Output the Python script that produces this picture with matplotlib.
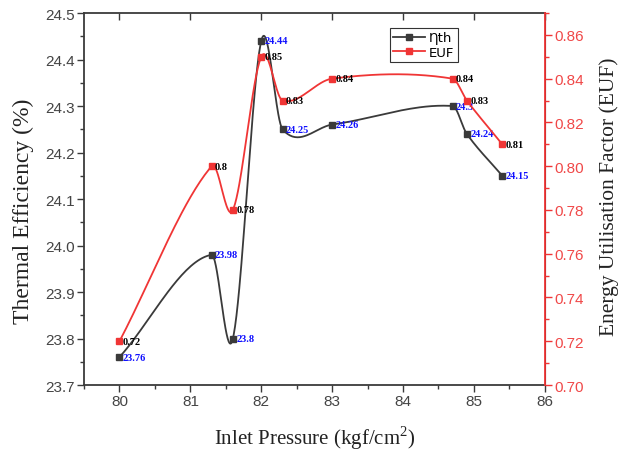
import numpy as np
import matplotlib
matplotlib.use("Agg")
import matplotlib.pyplot as plt
from matplotlib.ticker import MultipleLocator, FormatStrFormatter
from matplotlib.lines import Line2D

plt.rcParams["mathtext.fontset"] = "custom"
plt.rcParams["mathtext.rm"] = "Liberation Serif"

# ---- data ----
pressure = [80.0, 81.3, 81.6, 82.0, 82.3, 83.0, 84.7, 84.9, 85.4]
eta_th = [23.76, 23.98, 23.80, 24.44, 24.25, 24.26, 24.30, 24.24, 24.15]
euf = [0.72, 0.80, 0.78, 0.85, 0.83, 0.84, 0.84, 0.83, 0.81]
eta_labels = ["23.76", "23.98", "23.8", "24.44", "24.25", "24.26", "24.3", "24.24", "24.15"]
euf_labels = ["0.72", "0.8", "0.78", "0.85", "0.83", "0.84", "0.84", "0.83", "0.81"]
x_ticks = [80, 81, 82, 83, 84, 85, 86]


def smooth_curve(xs, ys, n=40):
    """Cardinal (Catmull-Rom style) Hermite curve through the points, for drawing only."""
    xs = np.asarray(xs, float)
    ys = np.asarray(ys, float)
    m = np.empty_like(ys)
    m[0] = (ys[1] - ys[0]) / (xs[1] - xs[0])
    m[-1] = (ys[-1] - ys[-2]) / (xs[-1] - xs[-2])
    m[1:-1] = (ys[2:] - ys[:-2]) / (xs[2:] - xs[:-2])
    px, py = [], []
    for i in range(len(xs) - 1):
        h = xs[i + 1] - xs[i]
        t = np.linspace(0, 1, n, endpoint=(i == len(xs) - 2))
        h00 = 2 * t**3 - 3 * t**2 + 1
        h10 = t**3 - 2 * t**2 + t
        h01 = -2 * t**3 + 3 * t**2
        h11 = t**3 - t**2
        px.append(xs[i] + t * h)
        py.append(h00 * ys[i] + h10 * h * m[i] + h01 * ys[i + 1] + h11 * h * m[i + 1])
    return np.concatenate(px), np.concatenate(py)


black = "#3a3a3a"
red = "#f03535"
red_txt = "#f04848"
blue = "#1010ff"
tick_gray = "#444444"

fig = plt.figure(figsize=(6.32, 4.52), dpi=100)
ax = fig.add_axes([0.133, 0.146, 0.729, 0.823])
ax2 = ax.twinx()

# black series
sx, sy = smooth_curve(pressure, eta_th)
ax.plot(sx, sy, color=black, lw=1.3, zorder=3)
ax.plot(pressure, eta_th, ls="none", marker="s", ms=5, color=black, zorder=4)
for xv, yv, lab in zip(pressure, eta_th, eta_labels):
    ax.annotate(lab, (xv, yv), xytext=(2.5, 0), textcoords="offset points",
                ha="left", va="center", color=blue, fontsize=7.5,
                fontweight="bold", family="Liberation Serif", zorder=6)

# red series
rx, ry = smooth_curve(pressure, euf)
ax2.plot(rx, ry, color=red, lw=1.3, zorder=3)
ax2.plot(pressure, euf, ls="none", marker="s", ms=5, color=red, zorder=4)
for xv, yv, lab in zip(pressure, euf, euf_labels):
    ax2.annotate(lab, (xv, yv), xytext=(2.5, 0), textcoords="offset points",
                 ha="left", va="center", color="black", fontsize=7.5,
                 fontweight="bold", family="Liberation Serif", zorder=6)

# axes limits/ticks
ax.set_xlim(79.5, 86)
ax.set_ylim(23.7, 24.5)
ax2.set_ylim(0.70, 0.87)
ax.set_xticks(x_ticks)
ax.xaxis.set_minor_locator(MultipleLocator(0.5))
ax.yaxis.set_major_locator(MultipleLocator(0.1))
ax.yaxis.set_minor_locator(MultipleLocator(0.05))
ax.yaxis.set_major_formatter(FormatStrFormatter("%.1f"))
ax2.yaxis.set_major_locator(MultipleLocator(0.02))
ax2.yaxis.set_minor_locator(MultipleLocator(0.01))
ax2.yaxis.set_major_formatter(FormatStrFormatter("%.2f"))

ax.tick_params(axis="both", which="major", direction="out", length=5, width=1,
               color=black, labelcolor=tick_gray, labelsize=11, pad=1.5)
ax.tick_params(axis="both", which="minor", direction="out", length=3, width=1, color=black)
ax2.tick_params(axis="y", which="major", direction="out", length=5, width=1,
                color=red, labelcolor=red_txt, labelsize=11, pad=2)
ax2.tick_params(axis="y", which="minor", direction="out", length=3, width=1, color=red)
for t in ax.get_xticklabels() + ax.get_yticklabels() + ax2.get_yticklabels():
    t.set_family("Liberation Sans")

secx = ax.secondary_xaxis("top")
secx.set_xticks(x_ticks)
secx.tick_params(direction="in", length=5, width=1, color=black, labeltop=False)
secx.spines["top"].set_visible(False)

for s in ["left", "bottom", "top"]:
    ax.spines[s].set_color(black)
    ax.spines[s].set_linewidth(1.3)
ax2.spines["right"].set_color(red)
ax2.spines["right"].set_linewidth(1.3)
for s in ["left", "bottom", "top"]:
    ax2.spines[s].set_visible(False)

ax.set_xlabel("Inlet Pressure (kgf/cm$^{\\mathrm{2}}$)", family="Liberation Serif",
              fontsize=15, color="#222222", labelpad=11)
fig.text(23 / 632, 1 - 211.5 / 452, "Thermal Efficiency (%)", rotation=90,
         ha="center", va="center", family="Liberation Serif", fontsize=17,
         color="#222222")
fig.text(609 / 632, 1 - 196.5 / 452, "Energy Utilisation Factor (EUF)", rotation=90,
         ha="center", va="center", family="Liberation Serif", fontsize=15.5,
         color="#222222")

# legend
handles = [Line2D([], [], color=black, lw=1.3, marker="s", ms=5),
           Line2D([], [], color=red, lw=1.3, marker="s", ms=5)]
leg = ax.legend(handles, ["\u0220th", "EUF"], loc="upper right",
                bbox_to_anchor=(0.811, 0.96), fancybox=False, framealpha=1,
                edgecolor="#333333", fontsize=9.5, handlelength=2.4, handletextpad=0.3,
                borderpad=0.25, labelspacing=0.1, borderaxespad=0)
leg.get_frame().set_linewidth(0.8)
leg.set_zorder(10)

fig.savefig("out.png", dpi=100)
